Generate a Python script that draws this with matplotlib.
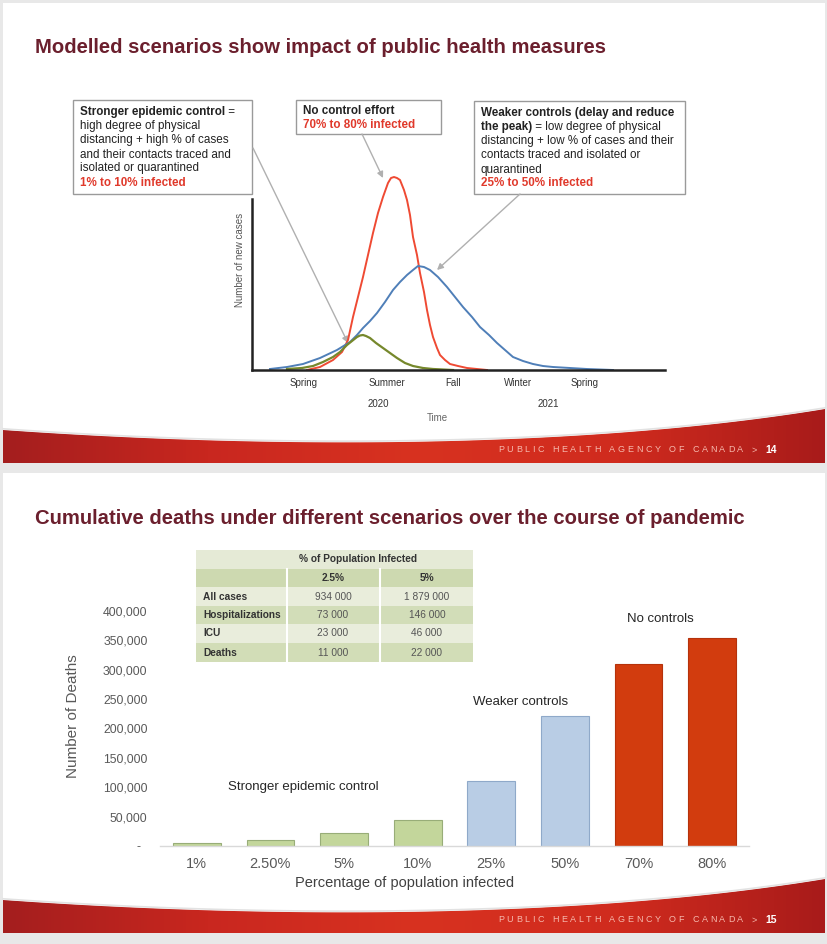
import numpy as np
import matplotlib
matplotlib.use("Agg")
import matplotlib.pyplot as plt
from matplotlib.patches import Rectangle, Polygon
from matplotlib.colors import LinearSegmentedColormap

plt.rcParams['font.family'] = ['Liberation Sans', 'DejaVu Sans']

# ---- slide 14: modelled epidemic curves (arbitrary time / case units)
season_pos = [52, 135, 201, 266, 333]
season_labels = ['Spring', 'Summer', 'Fall', 'Winter', 'Spring']
year_pos = [126, 296]
year_labels = ['2020', '2021']

no_control_t = [55, 68, 81, 90, 96, 101, 106, 111, 116, 121, 126, 131, 136, 139, 142, 145, 148, 152,
                155, 158, 161, 165, 168, 172, 175, 178, 181, 185, 188, 193, 198, 206, 215, 235]
no_control_v = [0, 3, 10, 18, 30, 53, 73, 93, 115, 137, 157, 173, 187, 192, 193, 192, 190, 180,
                170, 155, 133, 115, 97, 78, 60, 45, 33, 22, 15, 10, 6, 4, 2, 0]

weaker_t = [18, 35, 51, 68, 85, 98, 105, 111, 118, 125, 133, 141, 148, 155, 161, 166, 172, 178,
            186, 195, 203, 211, 220, 228, 237, 245, 253, 261, 271, 281, 291, 301, 318, 335, 361]
weaker_v = [1, 3, 6, 12, 20, 28, 35, 42, 49, 57, 68, 80, 88, 95, 100, 104, 103, 100,
            93, 83, 73, 63, 53, 43, 35, 27, 20, 13, 9, 6, 4, 3, 2, 1, 0]

stronger_t = [35, 50, 61, 71, 81, 88, 95, 100, 105, 108, 111, 114, 118, 124, 131, 138, 145, 153,
              161, 171, 181, 201]
stronger_v = [1, 2, 4, 8, 13, 18, 25, 29, 33, 34.5, 35, 34, 32, 27, 22, 17, 12, 7,
              4, 2, 1, 0]

# ---- slide 15: cumulative deaths
pct_labels = ['1%', '2.50%', '5%', '10%', '25%', '50%', '70%', '80%']
deaths = [4400, 11000, 22000, 44000, 110000, 221000, 310000, 354000]
groups = ['strong', 'strong', 'strong', 'strong', 'weak', 'weak', 'none', 'none']
ytick_vals = [0, 50000, 100000, 150000, 200000, 250000, 300000, 350000, 400000]
ytick_labels = ['-  ', '50,000', '100,000', '150,000', '200,000', '250,000',
                '300,000', '350,000', '400,000']

table_cols = ['2.5%', '5%']
table_rows = ['All cases', 'Hospitalizations', 'ICU', 'Deaths']
table_25 = ['934 000', '73 000', '23 000', '11 000']
table_5 = ['1 879 000', '146 000', '46 000', '22 000']

MAROON = '#6b1f2d'
RED_TXT = '#e0392b'
W, H = 828, 944

fig = plt.figure(figsize=(8.28, 9.44), dpi=100)
fig.patch.set_facecolor('#e8e8e8')
bg = fig.add_axes([0, 0, 1, 1])
bg.axis('off')
rend = fig.canvas.get_renderer()


def px_axes(x0, y0, x1, y1):
    return fig.add_axes([x0 / W, 1 - y1 / H, (x1 - x0) / W, (y1 - y0) / H])


def band(off, num):
    t = np.linspace(0, 1, 80)[:, None]
    p0, p1, p2, p3 = (np.array(p, float) for p in [(3, 430), (300, 451), (600, 446), (825, 409)])
    c = (1 - t) ** 3 * p0 + 3 * (1 - t) ** 2 * t * p1 + 3 * (1 - t) * t ** 2 * p2 + t ** 3 * p3
    c[:, 1] += off
    verts = np.vstack([c, [[825, 463 + off], [3, 463 + off]]])
    poly = Polygon(verts, closed=True, fc='none', ec='none')
    bg.add_patch(poly)
    cmap = LinearSegmentedColormap.from_list('band', ['#a41e1e', '#c9271f', '#d83220', '#d02b1e', '#a81b1a'])
    im = bg.imshow(np.linspace(0, 1, 256)[None, :], cmap=cmap, aspect='auto',
                   extent=(3, 825, 463 + off, 400 + off), zorder=1)
    im.set_clip_path(poly)
    bg.plot(c[:, 0], c[:, 1] - 1.2, color='#e2e2e2', lw=1.2, zorder=1)
    # footer text with letter spacing
    x, y = 498, 450 + off
    for ch in 'PUBLIC HEALTH AGENCY OF CANADA >':
        if ch == ' ':
            x += 6
            continue
        tt = bg.text(x, y, ch, fontsize=6.5, color='#f6b9ae', va='center', ha='left', zorder=3)
        x += tt.get_window_extent(rend).width + 2.6
    bg.text(771, y, num, fontsize=7.5, color='white', fontweight='bold', va='center', ha='center', zorder=3)


def run(x, y, parts, size=8.4):
    for s, bold, col in parts:
        tt = bg.text(x, y, s, fontsize=size, fontweight='bold' if bold else 'normal',
                     color=col, va='center', ha='left', zorder=3)
        x += tt.get_window_extent(rend).width


# slides
bg.add_patch(Rectangle((3, 3), 822, 460, fc='white', ec='none', zorder=0))
bg.add_patch(Rectangle((3, 473), 822, 460, fc='white', ec='none', zorder=0))
band(0, '14')
band(470, '15')

bg.text(35, 53, 'Modelled scenarios show impact of public health measures',
        fontsize=14.6, fontweight='bold', color=MAROON, va='baseline')
bg.text(35, 524, 'Cumulative deaths under different scenarios over the course of pandemic',
        fontsize=14.6, fontweight='bold', color=MAROON, va='baseline')

# ---- slide 14 chart
ax1 = px_axes(252, 170, 665, 370)
ax1.set_facecolor('none')
ax1.plot(no_control_t, no_control_v, color='#ef4a33', lw=1.4)
ax1.plot(weaker_t, weaker_v, color='#4f7fb8', lw=1.4)
ax1.plot(stronger_t, stronger_v, color='#76882c', lw=1.6)
ax1.set_xlim(0, 413)
ax1.set_ylim(0, 200)
for s in ['top', 'right']:
    ax1.spines[s].set_visible(False)
for s in ['left', 'bottom']:
    ax1.spines[s].set_linewidth(1.8)
    ax1.spines[s].set_color('#222222')
ax1.spines['left'].set_bounds(0, 171)
ax1.set_yticks([])
ax1.set_xticks(season_pos)
ax1.set_xticklabels(season_labels)
ax1.tick_params(axis='x', length=0, pad=6, labelsize=7, labelcolor='#333333')
ax1.set_ylabel('Number of new cases', fontsize=7, color='#555555')
ax1.yaxis.set_label_coords(-0.017, 0.55)
for p, lab in zip(year_pos, year_labels):
    ax1.text(p, -34, lab, fontsize=7, color='#333333', ha='center', va='center', clip_on=False)
ax1.text(185, -48, 'Time', fontsize=7, color='#666666', ha='center', va='center', clip_on=False)

# annotation boxes
bg.add_patch(Rectangle((73, 100), 179, 94, fc='white', ec='#9a9a9a', lw=1, zorder=2))
bg.add_patch(Rectangle((296, 100), 145, 34, fc='white', ec='#9a9a9a', lw=1, zorder=2))
bg.add_patch(Rectangle((474, 101), 211, 93, fc='white', ec='#9a9a9a', lw=1, zorder=2))
K = '#222222'
ly = [112, 126, 140, 154.5, 168.5, 182.5]
run(80, ly[0], [('Stronger epidemic control', True, K), (' =', False, K)])
run(80, ly[1], [('high degree of physical', False, K)])
run(80, ly[2], [('distancing + high % of cases', False, K)])
run(80, ly[3], [('and their contacts traced and', False, K)])
run(80, ly[4], [('isolated or quarantined', False, K)])
run(80, ly[5], [('1% to 10% infected', True, RED_TXT)])
run(303, 111, [('No control effort', True, K)])
run(303, 125, [('70% to 80% infected', True, RED_TXT)])
run(481, ly[0] + 1, [('Weaker controls (delay and reduce', True, K)])
run(481, ly[1] + 1, [('the peak)', True, K), (' = low degree of physical', False, K)])
run(481, ly[2] + 1, [('distancing + low % of cases and their', False, K)])
run(481, ly[3] + 1, [('contacts traced and isolated or', False, K)])
run(481, ly[4] + 1, [('quarantined', False, K)])
run(481, ly[5] + 1, [('25% to 50% infected', True, RED_TXT)])

arrow = dict(arrowstyle='-|>', color='#b0b0b0', lw=1, mutation_scale=9, shrinkA=0, shrinkB=0)
bg.annotate('', xy=(348, 343), xytext=(253, 148), arrowprops=arrow, zorder=4)
bg.annotate('', xy=(383, 178), xytext=(362, 134), arrowprops=arrow, zorder=4)
bg.annotate('', xy=(437, 270), xytext=(520, 194), arrowprops=arrow, zorder=4)

# ---- slide 15 table
tx0, tx1, tx2, tx3 = 196, 287, 380, 473
row_y = [550, 569, 587, 606, 624, 643, 662]
row_fc = ['#e5ead6', '#cdd9b0', '#e9eddb', '#d2ddb8', '#e9eddc', '#d2ddb7']
for i, fc in enumerate(row_fc):
    bg.add_patch(Rectangle((tx0, row_y[i]), tx3 - tx0, row_y[i + 1] - row_y[i], fc=fc, ec='none', zorder=2))
for xv in (tx1, tx2):
    bg.plot([xv, xv], [row_y[1], row_y[-1]], color='white', lw=1.5, zorder=2)
TS = 7.3
bg.text(358, 559.5, '% of Population Infected', fontsize=TS, fontweight='bold', color='#333333',
        ha='center', va='center', zorder=3)
for xc, lab in zip([333, 427], table_cols):
    bg.text(xc, 578, lab, fontsize=TS, fontweight='bold', color='#333333', ha='center', va='center', zorder=3)
for i, (lab, a, b) in enumerate(zip(table_rows, table_25, table_5)):
    yc = (row_y[i + 2] + row_y[i + 3]) / 2
    bg.text(203, yc, lab, fontsize=TS, fontweight='bold', color='#333333', ha='left', va='center', zorder=3)
    bg.text(333, yc, a, fontsize=TS, color='#555555', ha='center', va='center', zorder=3)
    bg.text(427, yc, b, fontsize=TS, color='#555555', ha='center', va='center', zorder=3)

# ---- slide 15 bars
face = {'strong': '#c3d69b', 'weak': '#b9cde5', 'none': '#d23c0e'}
edge = {'strong': '#98ad78', 'weak': '#8fa9c9', 'none': '#b5320b'}
ax2 = px_axes(160, 611, 749, 846)
ax2.set_facecolor('none')
xs = np.arange(len(deaths))
ax2.bar(xs, deaths, width=0.65, color=[face[g] for g in groups],
        edgecolor=[edge[g] for g in groups], lw=0.8, zorder=2)
ax2.set_xlim(-0.5, len(deaths) - 0.5)
ax2.set_ylim(0, 400000)
for s in ['top', 'right', 'left']:
    ax2.spines[s].set_visible(False)
ax2.spines['bottom'].set_color('#d9d9d9')
ax2.spines['bottom'].set_linewidth(1)
ax2.set_yticks(ytick_vals)
ax2.set_yticklabels(ytick_labels)
ax2.set_xticks(xs)
ax2.set_xticklabels(pct_labels)
ax2.tick_params(axis='y', length=0, pad=9, labelsize=8.8, labelcolor='#595959')
ax2.tick_params(axis='x', length=0, pad=8, labelsize=10.5, labelcolor='#595959')
ax2.set_ylabel('Number of Deaths', fontsize=11, color='#595959')
ax2.yaxis.set_label_coords(-0.136, 0.553)
ax2.set_xlabel('Percentage of population infected', fontsize=10.5, color='#404040')
ax2.xaxis.set_label_coords(0.416, -0.128)
ax2.text(1.45, 100000, 'Stronger epidemic control', fontsize=9.5, color='#262626', ha='center', va='center')
ax2.text(4.4, 245000, 'Weaker controls', fontsize=9.5, color='#262626', ha='center', va='center')
ax2.text(6.3, 386000, 'No controls', fontsize=9.5, color='#262626', ha='center', va='center')

bg.set_xlim(0, W)
bg.set_ylim(H, 0)
fig.savefig('out.png', dpi=100, facecolor=fig.get_facecolor())
